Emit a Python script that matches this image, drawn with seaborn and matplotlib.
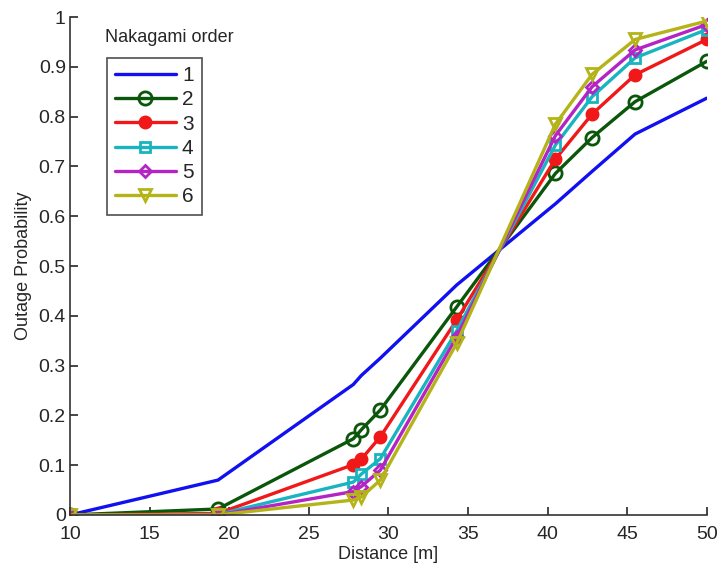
import numpy as np
import pandas as pd
import matplotlib
matplotlib.use("Agg")
import matplotlib.pyplot as plt
import seaborn as sns

distance = [10, 19.3, 27.8, 28.3, 29.5, 34.3, 40.5, 42.8, 45.5, 50]
orders = ["1", "2", "3", "4", "5", "6"]
p1 = [0.0, 0.070, 0.262, 0.280, 0.315, 0.462, 0.625, 0.690, 0.765, 0.837]
p2 = [0.0, 0.012, 0.153, 0.171, 0.211, 0.418, 0.686, 0.758, 0.830, 0.911]
p3 = [0.0, 0.003, 0.101, 0.112, 0.157, 0.392, 0.715, 0.805, 0.884, 0.955]
p4 = [0.0, 0.001, 0.066, 0.082, 0.113, 0.370, 0.743, 0.840, 0.918, 0.975]
p5 = [0.0, 0.000, 0.047, 0.057, 0.090, 0.358, 0.762, 0.860, 0.934, 0.985]
p6 = [0.0, 0.000, 0.030, 0.036, 0.070, 0.345, 0.785, 0.885, 0.955, 0.992]

colors = ["#1010f0", "#0a560a", "#f01818", "#18b4c0", "#b424c4", "#b4b418"]
markers = [None, "o", "o", "s", "D", "v"]
filled = [False, False, True, False, False, False]
msizes = [0, 9.5, 8, 7.5, 6.5, 9]

df = pd.DataFrame({
    "Distance": distance * 6,
    "Outage": p1 + p2 + p3 + p4 + p5 + p6,
    "Order": [o for o in orders for _ in distance],
})

sns.set_style("ticks")
plt.rcParams["font.family"] = ["Liberation Sans", "DejaVu Sans"]

fig = plt.figure(figsize=(7.17, 5.69), dpi=100)
ax = fig.add_axes([0.0976, 0.095, 0.888, 0.875])

for i, o in enumerate(orders):
    sub = df[df["Order"] == o]
    kw = dict(color=colors[i], linewidth=2.4)
    if markers[i] is not None:
        kw.update(marker=markers[i], markersize=msizes[i],
                  markeredgewidth=2.0, markeredgecolor=colors[i],
                  markerfacecolor=colors[i] if filled[i] else "none")
    sns.lineplot(data=sub, x="Distance", y="Outage", ax=ax, label=o, **kw)

ax.set_xlim(10, 50)
ax.set_ylim(0, 1)
ax.set_xticks(np.arange(10, 51, 5))
ax.set_yticks(np.arange(0, 1.01, 0.1))
ax.set_yticklabels(["0"] + [f"{v:.1f}" for v in np.arange(0.1, 1.0, 0.1)] + ["1"])
ax.tick_params(direction="in", length=6, width=1.2, labelsize=14)
ax.tick_params(axis="x", pad=8)
ax.tick_params(axis="y", pad=3)
sns.despine(ax=ax)
for s in ["left", "bottom"]:
    ax.spines[s].set_linewidth(1.2)
    ax.spines[s].set_color("#333333")

ax.set_xlabel("Distance [m]", fontsize=13, labelpad=2)
ax.set_ylabel("Outage Probability", fontsize=13, labelpad=5)

ax.text(0.055, 0.958, "Nakagami order", transform=ax.transAxes, fontsize=13,
        ha="left", va="center")
leg = ax.legend(loc="upper left", bbox_to_anchor=(0.058, 0.918), fontsize=15,
                handlelength=2.9, frameon=True, fancybox=False, borderpad=0.4,
                labelspacing=0.25, handletextpad=0.3, borderaxespad=0)
leg.get_frame().set_edgecolor("#222222")
leg.get_frame().set_linewidth(1.2)

fig.savefig("out.png", dpi=100)
